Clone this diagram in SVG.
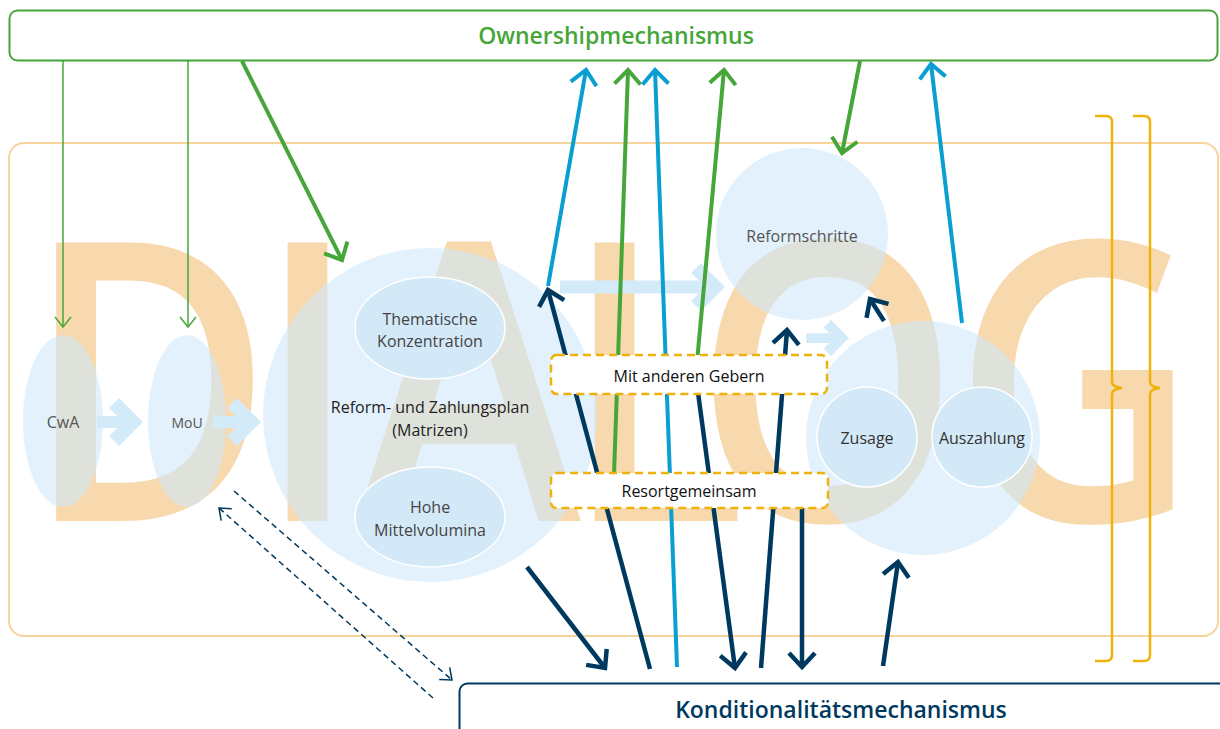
<svg xmlns="http://www.w3.org/2000/svg" width="1220" height="729" viewBox="0 0 1220 729">
<style>
.big{font-family:"Open Sans","Noto Sans",sans-serif;font-size:390px;font-weight:600;fill:#f8d9ae}
.lbl{font-family:"Open Sans","Noto Sans",sans-serif;font-size:16px;text-anchor:middle}
.soft{fill:#cfe7f8;fill-opacity:0.6}
.inner{fill:#d4e9f8;stroke:#ffffff;stroke-width:1.5}
.blk{fill:#d3eaf9}
.g4{stroke:#47a63a;stroke-width:4;fill:none;marker-end:url(#ahG)}
.g1{stroke:#47a63a;stroke-width:1.5;fill:none;marker-end:url(#ahG1)}
.c4{stroke:#0a9fd2;stroke-width:4;fill:none;marker-end:url(#ahC)}
.n4{stroke:#00395f;stroke-width:4.5;fill:none;marker-end:url(#ahN)}
.nd{stroke:#00395f;stroke-width:1.5;fill:none;stroke-dasharray:6 4;marker-end:url(#ahN1)}
.dbox{fill:#ffffff;stroke:#efb20a;stroke-width:2.5;stroke-dasharray:8 5}
.brace{fill:none;stroke:#efb20a;stroke-width:2.5}
.head{font-family:"Open Sans","Noto Sans",sans-serif;font-size:23px;font-weight:600;text-anchor:middle}
</style>
<defs>
<marker id="ahG" markerUnits="userSpaceOnUse" viewBox="-20 -20 26 40" markerWidth="26" markerHeight="40" refX="0" refY="0" orient="auto"><path d="M-14,-13 L0,0 L-14,13" fill="none" stroke="#47a63a" stroke-width="4"/></marker>
<marker id="ahC" markerUnits="userSpaceOnUse" viewBox="-20 -20 26 40" markerWidth="26" markerHeight="40" refX="0" refY="0" orient="auto"><path d="M-14,-13 L0,0 L-14,13" fill="none" stroke="#0a9fd2" stroke-width="4"/></marker>
<marker id="ahN" markerUnits="userSpaceOnUse" viewBox="-20 -20 26 40" markerWidth="26" markerHeight="40" refX="0" refY="0" orient="auto"><path d="M-14,-13 L0,0 L-14,13" fill="none" stroke="#00395f" stroke-width="4.5"/></marker>
<marker id="ahG1" markerUnits="userSpaceOnUse" viewBox="-14 -12 18 24" markerWidth="18" markerHeight="24" refX="0" refY="0" orient="auto"><path d="M-10,-8 L0,0 L-10,8" fill="none" stroke="#47a63a" stroke-width="1.5"/></marker>
<marker id="ahN1" markerUnits="userSpaceOnUse" viewBox="-14 -12 18 24" markerWidth="18" markerHeight="24" refX="0" refY="0" orient="auto"><path d="M-10,-8 L0,0 L-10,8" fill="none" stroke="#00395f" stroke-width="1.5"/></marker>
</defs>
<rect width="1220" height="729" fill="#ffffff"/>
<text class="big" transform="scale(0.87 1)" x="28 294 410 647 797 1095" y="521">DIALOG</text>
<rect id="dialog-frame" x="9" y="143" width="1209" height="493" rx="15" fill="none" stroke="#f9d39d" stroke-width="2"/>
<g id="braces">
<path class="brace" d="M1095,116 H1106 Q1112,116 1112,122 V382 Q1112,387 1122,388 Q1112,389 1112,394 V655 Q1112,661 1106,661 H1095"/>
<path class="brace" d="M1133,116 H1144 Q1150,116 1150,122 V382 Q1150,387 1160,388 Q1150,389 1150,394 V655 Q1150,661 1144,661 H1133"/>
</g>
<g id="node-cwa"><ellipse class="soft" cx="63" cy="421" rx="40" ry="86"/><text class="lbl" x="63" y="428" fill="#555555">CwA</text></g>
<g id="node-mou"><ellipse class="soft" cx="187" cy="421" rx="39" ry="86"/><text class="lbl" x="187" y="428" fill="#555555" style="font-size:14px">MoU</text></g>
<g id="node-plan">
<circle class="soft" cx="430" cy="415" r="167"/>
<text class="lbl" x="430" y="413" fill="#222222">Reform- und Zahlungsplan</text>
<text class="lbl" x="430" y="436" fill="#222222">(Matrizen)</text>
</g>
<g id="node-thematisch"><ellipse class="inner" cx="430" cy="328" rx="75" ry="51"/><text class="lbl" x="430" y="325" fill="#444444">Thematische</text><text class="lbl" x="430" y="347" fill="#444444">Konzentration</text></g>
<g id="node-mittel"><ellipse class="inner" cx="430" cy="517" rx="75" ry="50"/><text class="lbl" x="430" y="513" fill="#444444">Hohe</text><text class="lbl" x="430" y="536" fill="#444444">Mittelvolumina</text></g>
<g id="node-reformschritte"><circle class="soft" cx="802" cy="234" r="86"/><text class="lbl" x="802" y="242" fill="#555555">Reformschritte</text></g>
<g id="node-umsetzung"><circle class="soft" cx="923" cy="438" r="117"/></g>
<g id="node-zusage"><circle class="inner" cx="867" cy="437" r="50"/><text class="lbl" x="867" y="444" fill="#333333">Zusage</text></g>
<g id="node-auszahlung"><circle class="inner" cx="982" cy="437" r="50"/><text class="lbl" x="982" y="444" fill="#333333">Auszahlung</text></g>
<g id="flow-arrows">
<polygon class="blk" transform="translate(143,422)" points="-46,-6 -25.8,-6 -33.9,-14.1 -24,-24 0,0 -24,24 -33.9,14.1 -25.8,6 -46,6"/>
<polygon class="blk" transform="translate(261,422)" points="-48,-6 -25.8,-6 -33.9,-14.1 -24,-24 0,0 -24,24 -33.9,14.1 -25.8,6 -48,6"/>
<polygon class="blk" transform="translate(725,287)" points="-165,-6.5 -25.8,-6.5 -33.9,-14.1 -24,-24 0,0 -24,24 -33.9,14.1 -25.8,6.5 -165,6.5"/>
<polygon class="blk" transform="translate(849,338) scale(0.75)" points="-57,-6.5 -25.8,-6.5 -33.9,-14.1 -24,-24 0,0 -24,24 -33.9,14.1 -25.8,6.5 -57,6.5"/>
</g>
<g id="connectors">
<line class="g1" x1="63" y1="61" x2="63" y2="327"/>
<line class="g1" x1="188" y1="61" x2="188" y2="327"/>
<line class="g4" x1="242" y1="61" x2="342" y2="260"/>
<line class="g4" x1="614" y1="475" x2="628" y2="70"/>
<line class="g4" x1="697" y1="362" x2="724" y2="70"/>
<line class="g4" x1="860" y1="61" x2="842" y2="153"/>
<line class="c4" x1="548" y1="286" x2="586" y2="70"/>
<line class="c4" x1="677" y1="667" x2="655" y2="70"/>
<line class="c4" x1="962" y1="323" x2="931" y2="64"/>
<line class="n4" x1="650" y1="669" x2="548" y2="290"/>
<line class="n4" x1="527" y1="567" x2="605" y2="668"/>
<line class="n4" x1="697" y1="385" x2="735" y2="668"/>
<line class="n4" x1="761" y1="668" x2="787" y2="330"/>
<line class="n4" x1="802" y1="495" x2="802" y2="667"/>
<line class="n4" x1="883" y1="666" x2="898" y2="562"/>
<line class="n4" x1="884" y1="321" x2="870" y2="299"/>
<line class="nd" x1="234" y1="491" x2="452" y2="680"/>
<line class="nd" x1="433" y1="698" x2="219" y2="508"/>
</g>
<g id="node-geber"><rect class="dbox" x="551" y="355" width="276" height="39" rx="6"/><text class="lbl" x="689" y="382" fill="#111111">Mit anderen Gebern</text></g>
<g id="node-resort"><rect class="dbox" x="551" y="473" width="277" height="35" rx="6"/><text class="lbl" x="689" y="497" fill="#111111">Resortgemeinsam</text></g>
<g id="node-ownership"><rect x="9.5" y="10.5" width="1208" height="50" rx="8" fill="#ffffff" stroke="#47a63a" stroke-width="2"/><text class="head" x="616" y="44" fill="#47a63a">Ownershipmechanismus</text></g>
<g id="node-konditionalitaet"><rect x="459.5" y="683.5" width="800" height="100" rx="8" fill="#ffffff" stroke="#00395f" stroke-width="2"/><text class="head" x="841" y="718" fill="#00395f">Konditionalitätsmechanismus</text></g>
</svg>
